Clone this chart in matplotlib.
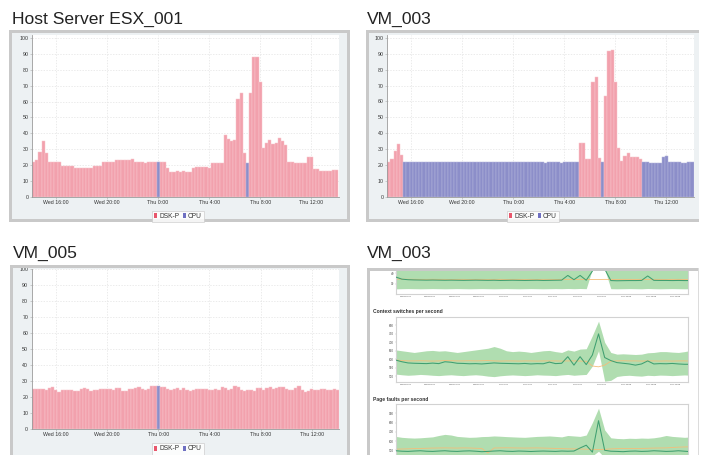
import numpy as np
import matplotlib
matplotlib.use("Agg")
import matplotlib.pyplot as plt
from matplotlib.patches import Rectangle, Patch

plt.rcParams['font.family'] = ['Liberation Sans', 'DejaVu Sans']

# ---------------- DATA ----------------
bar_tick_pos = [16, 20, 24, 28, 32, 36]
bar_tick_labels = ["Wed 16:00", "Wed 20:00", "Thu 0:00", "Thu 4:00", "Thu 8:00", "Thu 12:00"]

esx_values = [22, 23.5, 28.3, 35, 27.7, 22, 22, 22, 21.7, 19.8,
              19.8, 19.6, 19.6, 18.1, 18, 18, 18, 18.3, 18.3, 19.6,
              19.6, 19.6, 21.7, 21.7, 21.7, 21.7, 23.1, 23, 23, 23.1,
              23.1, 23.8, 21.7, 21.7, 21.7, 21.5, 22, 22, 22, 22,
              22, 22, 18.5, 16, 16, 16.2, 15.8, 16.1, 16, 16,
              18.4, 18.7, 18.9, 18.9, 18.9, 18.4, 21.6, 21.6, 21.6, 21.6,
              38.8, 36.7, 35.2, 35.8, 61.8, 65.2, 27.7, 21.6, 65.2, 88,
              88.3, 72.3, 30.8, 34, 36, 33.5, 33.7, 37.3, 35.2, 32.5,
              21.8, 21.8, 21.6, 21.6, 21.6, 21.4, 25.2, 25.4, 17.6, 17.8,
              16.4, 16.1, 16.1, 16.1, 17, 16.8]
esx_runs = [("DSK-P", 39), ("CPU", 1), ("DSK-P", 27), ("CPU", 1), ("DSK-P", 28)]

vm003_values = [21.8, 23.7, 28.9, 32.9, 26.4,
                22.0, 22.0, 22.0, 21.6, 22.0, 22.0, 21.6, 21.6, 22.0, 21.6,
                21.6, 22.0, 22.0, 21.6, 22.0, 21.6, 21.6, 21.6, 22.0, 21.6,
                22.0, 21.6, 22.0, 22.0, 21.6, 21.6, 21.6, 22.0, 21.6, 22.0,
                21.6, 21.6, 21.6, 21.6, 21.6, 22.0, 21.6, 21.6, 21.6, 21.6,
                21.6, 21.8, 21.6, 21.6, 21.4, 21.6, 21.8, 21.6, 21.6, 21.4,
                21.6, 21.8, 21.6, 21.6, 21.6,
                34, 33.8, 23.9, 23.9, 72, 75.3, 24.1, 21.6, 63.3, 92,
                92.4, 72.1, 30.6, 22.4, 25.4, 27.3, 25, 24.7, 25.2, 23.7,
                21.6, 21.6, 21.4, 21.4, 21.4, 21.2, 25.2, 25.4, 21.6, 21.6,
                21.8, 21.6, 21.4, 21.4, 21.8, 21.8]
vm003_runs = [("DSK-P", 5), ("CPU", 55), ("DSK-P", 7), ("CPU", 1), ("DSK-P", 12), ("CPU", 16)]

vm005_values = [24.8, 25, 25.2, 25.2, 24.4, 25.4, 26.5, 24.4, 22.9, 24.4,
                24.4, 24.4, 24.4, 24, 23.8, 24.8, 25.6, 24.8, 23.5, 24.4,
                24.4, 25, 25.2, 25, 25, 24.6, 25.6, 25.6, 24, 24,
                24.8, 25.2, 25.6, 26, 25.2, 24.6, 25.2, 26.9, 26.7, 26.7,
                26.2, 26, 25.2, 24.4, 25, 25.6, 24.4, 25.6, 24.6, 24,
                24.6, 25, 25.2, 25.2, 25, 24.6, 24.4, 24.8, 24.6, 26,
                25.6, 24.2, 25, 26.6, 26.4, 24.4, 24, 24.4, 24.6, 24,
                25.6, 25.6, 24.6, 25.6, 26, 25, 25.6, 26, 26, 25,
                24.2, 24.6, 25.4, 26.6, 24.6, 23, 24, 25, 24.4, 24.2,
                25, 25, 24.6, 24.4, 25, 24.6]
vm005_runs = [("DSK-P", 39), ("CPU", 1), ("DSK-P", 56)]

line_tick_pos = [16, 18, 20, 22, 24, 26, 28, 30, 32, 34, 36, 38]
line_tick_labels = ["Wed 16:00", "Wed 18:00", "Wed 20:00", "Wed 22:00", "Thu 0:00", "Thu 2:00",
                    "Thu 4:00", "Thu 6:00", "Thu 8:00", "Thu 10:00", "Thu 12:00", "Thu 14:00"]

cpu_dark = [36.5, 34.5, 34.0, 33.8, 33.7, 33.6, 33.7, 33.6, 33.5, 33.6,
            33.5, 33.4, 33.5, 33.6, 33.5, 33.4, 33.5, 33.3, 33.4, 33.5,
            33.4, 33.3, 33.4, 33.5, 33.3, 33.4, 33.5, 33.6, 38.0, 34.0,
            38.0, 33.5, 42.0, 70.0, 44.0, 33.2, 33.0, 33.1, 33.2, 33.2,
            33.3, 37.5, 33.4, 33.3, 33.3, 33.2, 33.3, 33.2, 33.2]
cpu_orange = [34.6, 34.5, 34.4, 34.4, 34.3, 34.3, 34.4, 34.3, 34.3, 34.2,
              34.3, 34.3, 34.2, 34.3, 34.3, 34.2, 34.3, 34.3, 34.2, 34.3,
              34.3, 34.2, 34.3, 34.2, 34.3, 34.3, 34.2, 34.3, 34.3, 34.2,
              34.3, 34.3, 34.2, 34.2, 34.3, 34.3, 34.2, 34.3, 34.3, 34.2,
              34.3, 34.2, 34.3, 34.3, 34.2, 34.3, 34.3, 34.2, 34.3]
cpu_upper = [48, 48, 47, 47, 48, 48, 47, 47, 48, 48,
             47, 47, 48, 48, 47, 47, 48, 48, 47, 47,
             48, 48, 47, 47, 48, 48, 47, 47, 49, 48,
             49, 48, 60, 95, 60, 47, 47, 48, 48, 47,
             47, 49, 48, 47, 47, 48, 48, 47, 47]
cpu_lower = [25.4, 25.6, 25.7, 25.6, 25.5, 25.6, 25.7, 25.6, 25.5, 25.6,
             25.7, 25.6, 25.5, 25.6, 25.7, 25.6, 25.5, 25.6, 25.7, 25.6,
             25.5, 25.6, 25.7, 25.6, 25.5, 25.6, 25.7, 25.6, 25.8, 25.6,
             25.8, 25.6, 44.0, 60.0, 44.0, 25.6, 25.5, 25.6, 25.7, 25.6,
             25.5, 25.8, 25.6, 25.5, 25.6, 25.7, 25.6, 25.5, 25.6]

ctx_dark = [595, 585, 578, 576, 575, 574, 577, 574, 585, 582,
            576, 575, 573, 574, 572, 575, 578, 576, 575, 574,
            573, 575, 572, 574, 573, 583, 574, 576, 615, 565,
            615, 568, 625, 750, 610, 592, 580, 576, 572, 565,
            572, 590, 572, 574, 573, 575, 572, 570, 570]
ctx_orange = [596, 592, 590, 590, 591, 590, 589, 590, 592, 591,
              590, 590, 591, 590, 591, 592, 590, 589, 590, 590,
              589, 590, 590, 589, 590, 590, 590, 589, 590, 590,
              589, 588, 560, 555, 565, 588, 590, 591, 590, 590,
              589, 590, 590, 589, 590, 589, 590, 590, 589]
ctx_upper = [655, 650, 645, 640, 645, 650, 652, 648, 650, 645,
             640, 645, 650, 655, 660, 665, 675, 665, 650, 645,
             648, 645, 640, 645, 650, 652, 645, 640, 655, 648,
             660, 662, 740, 825, 700, 640, 630, 632, 630, 628,
             630, 638, 640, 645, 645, 642, 640, 645, 652]
ctx_lower = [512, 508, 505, 507, 510, 508, 505, 503, 506, 508,
             505, 503, 506, 508, 505, 500, 497, 502, 505, 507,
             505, 503, 505, 508, 506, 505, 503, 507, 510, 505,
             508, 510, 560, 650, 470, 475, 498, 503, 505, 502,
             500, 505, 503, 506, 505, 503, 505, 507, 505]

pf_dark = [495, 490, 488, 492, 495, 490, 488, 492, 495, 490,
           488, 492, 494, 490, 485, 488, 492, 495, 490, 488,
           492, 490, 487, 490, 492, 490, 488, 492, 490, 492,
           525, 555, 480, 820, 500, 490, 488, 485, 490, 492,
           488, 490, 495, 492, 488, 490, 495, 490, 485]
pf_orange = [512, 514, 516, 518, 520, 522, 524, 525, 526, 525,
             524, 526, 525, 522, 520, 470, 525, 526, 527, 526,
             525, 524, 525, 526, 524, 522, 520, 518, 516, 515,
             514, 512, 510, 508, 510, 515, 518, 520, 520, 518,
             520, 522, 524, 525, 526, 530, 534, 536, 538]
pf_upper = [650, 640, 635, 632, 635, 640, 645, 660, 672, 665,
            650, 645, 640, 642, 648, 650, 655, 652, 648, 645,
            642, 640, 645, 650, 652, 655, 650, 645, 660, 655,
            650, 665, 800, 955, 720, 635, 628, 625, 630, 628,
            632, 630, 635, 645, 660, 650, 645, 640, 645]
pf_lower = [385, 382, 380, 378, 380, 383, 385, 382, 378, 380,
            382, 384, 380, 378, 376, 380, 383, 385, 382, 380,
            378, 380, 382, 384, 380, 378, 380, 382, 384, 380,
            385, 390, 440, 490, 420, 380, 378, 380, 382, 380,
            378, 380, 382, 384, 380, 378, 380, 382, 380]

# ---------------- STYLE ----------------
BAR_COLORS = {"DSK-P": "#f2a1ad", "CPU": "#8c8ec9"}
BAR_EDGES = {"DSK-P": "#f8c6cd", "CPU": "#b4b5dc"}
LEG_COLORS = {"DSK-P": "#e8566c", "CPU": "#6f70c2"}
FRAME_BG = "#edf1f3"
BORDER = "#c9c9c9"
BAND = "#b0ddb0"
DARK = "#3f9f70"
ORANGE = "#f4bd7a"

W, H = 713, 455
fig = plt.figure(figsize=(W / 100, H / 100), dpi=100)
fig.patch.set_facecolor("white")


def add_ax(x0, y0, x1, y1):
    return fig.add_axes([x0 / W, 1 - y1 / H, (x1 - x0) / W, (y1 - y0) / H])


def rect(x0, y0, x1, y1, color, z):
    fig.add_artist(Rectangle((x0 / W, 1 - y1 / H), (x1 - x0) / W, (y1 - y0) / H,
                             transform=fig.transFigure, facecolor=color,
                             edgecolor="none", zorder=z))


def bar_panel(box, values, runs, ylim_top, legend_center):
    ax = add_ax(*box)
    series = []
    for name, n in runs:
        series += [name] * n
    t = 14.25 + 0.25 * np.arange(len(values))
    ax.bar(t, values, width=0.25, color=[BAR_COLORS[s] for s in series],
           edgecolor=[BAR_EDGES[s] for s in series], linewidth=0.35, zorder=2)
    ax.set_xlim(14.125, 38.125)
    ax.set_ylim(0, ylim_top)
    ax.set_yticks(range(0, 101, 10))
    ax.set_xticks(bar_tick_pos)
    ax.set_xticklabels(bar_tick_labels)
    ax.set_facecolor("white")
    ax.grid(True, color="#e3e3e3", linestyle=(0, (2, 2)), linewidth=0.5)
    ax.set_axisbelow(True)
    for s in ("top", "right"):
        ax.spines[s].set_visible(False)
    for s in ("left", "bottom"):
        ax.spines[s].set_color("#9a9a9a")
        ax.spines[s].set_linewidth(0.6)
    ax.tick_params(axis="both", labelsize=3.8, labelcolor="#333333", color="#aaaaaa",
                   length=1.5, width=0.4, pad=1.0)
    handles = [Patch(facecolor=LEG_COLORS[k], edgecolor="none", label=k) for k in ("DSK-P", "CPU")]
    leg = fig.legend(handles=handles, loc="center",
                     bbox_to_anchor=(legend_center[0] / W, 1 - legend_center[1] / H),
                     ncol=2, fontsize=4.8, frameon=True, fancybox=False,
                     handlelength=0.45, handleheight=0.8, handletextpad=0.3,
                     columnspacing=0.5, borderpad=0.35, borderaxespad=0)
    leg.get_frame().set_edgecolor("#cccccc")
    leg.get_frame().set_linewidth(0.6)
    for txt in leg.get_texts():
        txt.set_color("#333333")
    return ax


def line_panel(box, ylim, yticks, dark, orange, upper, lower, show_xlabels=True):
    ax = add_ax(*box)
    t = 15.25 + 0.5 * np.arange(len(dark))
    ax.fill_between(t, lower, upper, color=BAND, linewidth=0, zorder=1)
    ax.plot(t, orange, color=ORANGE, linewidth=0.6, zorder=2)
    ax.plot(t, dark, color=DARK, linewidth=0.75, zorder=3)
    ax.set_xlim(15.27, 39.03)
    ax.set_ylim(*ylim)
    ax.set_yticks(yticks)
    ax.set_xticks(line_tick_pos)
    ax.set_xticklabels(line_tick_labels if show_xlabels else [])
    for s in ax.spines.values():
        s.set_color("#d2d2d2")
        s.set_linewidth(0.8)
    ax.tick_params(axis="y", labelsize=2.2, labelcolor="#444444", length=0.8,
                   width=0.3, color="#bbbbbb", pad=0.8)
    ax.tick_params(axis="x", labelsize=1.6, labelcolor="#444444", length=0.8,
                   width=0.3, color="#bbbbbb", pad=0.8)
    return ax


# ---------------- PANEL 1 : Host Server ESX_001 ----------------
rect(9, 30, 350, 222, FRAME_BG, -5)
bar_panel((32, 34.5, 338.5, 197), esx_values, esx_runs, 102.2, (178, 216.5))
rect(9, 30, 350, 33, BORDER, 5)
rect(9, 219, 350, 222, BORDER, 5)
rect(9, 30, 12, 222, BORDER, 5)
rect(347, 30, 350, 222, BORDER, 5)
fig.text(12.5 / W, 1 - 24 / H, "Host Server ESX_001", fontsize=12.6, color="#222222", va="baseline")

# ---------------- PANEL 2 : VM_003 bars ----------------
rect(366, 30, 699, 222, FRAME_BG, -5)
bar_panel((387.3, 34.5, 693.5, 196.7), vm003_values, vm003_runs, 102.2, (533, 216.5))
rect(366, 30, 699, 33, BORDER, 5)
rect(366, 219, 699, 222, BORDER, 5)
rect(366, 30, 369, 222, BORDER, 5)
fig.text(366.5 / W, 1 - 24 / H, "VM_003", fontsize=12.6, color="#222222", va="baseline")

# ---------------- PANEL 3 : VM_005 ----------------
rect(10, 265, 350, 470, FRAME_BG, -5)
bar_panel((31.7, 269, 339, 429), vm005_values, vm005_runs, 100, (178, 449))
rect(10, 265, 350, 268, BORDER, 5)
rect(10, 265, 13, 470, BORDER, 5)
rect(347, 265, 350, 470, BORDER, 5)
fig.text(12.5 / W, 1 - 257.5 / H, "VM_005", fontsize=12.6, color="#222222", va="baseline")

# ---------------- PANEL 4 : VM_003 line charts ----------------
line_panel((396, 269, 688, 293.5), (21.1, 44.0), [30, 40],
           cpu_dark, cpu_orange, cpu_upper, cpu_lower)
fig.text(373 / W, 1 - 311 / H, "Context switches per second", fontsize=3.6,
         fontweight="bold", color="#333333", va="center")
line_panel((396, 317.3, 688, 381.7), (467, 848), [500, 550, 600, 650, 700, 750, 800],
           ctx_dark, ctx_orange, ctx_upper, ctx_lower)
fig.text(373 / W, 1 - 399 / H, "Page faults per second", fontsize=3.6,
         fontweight="bold", color="#333333", va="center")
line_panel((396, 404.3, 688, 470), (287, 997), [500, 600, 700, 800, 900],
           pf_dark, pf_orange, pf_upper, pf_lower, show_xlabels=False)
rect(367, 268, 698, 271, BORDER, 5)
rect(367, 268, 370, 470, BORDER, 5)
rect(697.5, 268, 698.5, 470, "#dcdcdc", 5)
fig.text(366.5 / W, 1 - 257.5 / H, "VM_003", fontsize=12.6, color="#222222", va="baseline")

fig.savefig("out.png", dpi=100, facecolor="white")
